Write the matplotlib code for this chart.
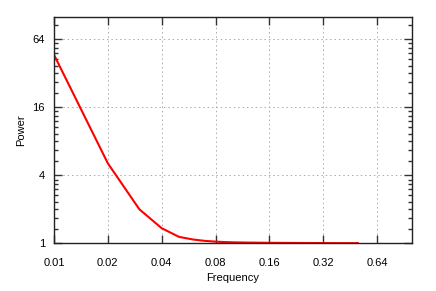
import numpy as np
from matplotlib import pyplot as plt
from matplotlib.ticker import FixedLocator, NullFormatter, NullLocator

plt.rcParams['font.family'] = ['Liberation Sans', 'DejaVu Sans']

# values
frequency = [0.01, 0.02, 0.03, 0.04, 0.05, 0.06, 0.07, 0.08, 0.09, 0.10,
             0.12, 0.14, 0.16, 0.20, 0.25, 0.30, 0.35, 0.40, 0.45, 0.50]
power = [46.5, 5.1, 2.0, 1.36, 1.14, 1.08, 1.05, 1.035, 1.025, 1.02,
         1.015, 1.012, 1.01, 1.008, 1.006, 1.005, 1.004, 1.003, 1.003, 1.003]

x_ticks = [0.01, 0.02, 0.04, 0.08, 0.16, 0.32, 0.64]
x_tick_labels = ['0.01', '0.02', '0.04', '0.08', '0.16', '0.32', '0.64']
y_ticks = [1, 4, 16, 64]
y_tick_labels = ['1', '4', '16', '64']

fig = plt.figure(figsize=(4.36, 2.91), dpi=100)
ax = fig.add_axes([54 / 436, 1 - 243.3 / 291, (411.7 - 54) / 436, (243.3 - 16.7) / 291])

ax.plot(frequency, power, color='#ff0000', linewidth=1.5)

ax.set_xscale('log', base=2)
ax.set_yscale('log', base=2)
ax.set_xlim(0.01, 1.0)
ax.set_ylim(1, 101)

ax.xaxis.set_major_locator(FixedLocator(x_ticks))
ax.set_xticklabels(x_tick_labels)
ax.xaxis.set_minor_locator(NullLocator())

ax.yaxis.set_major_locator(FixedLocator(y_ticks))
ax.set_yticklabels(y_tick_labels)
# gnuplot style minor ticks: eight evenly spaced ones between each pair of majors
minor = [b * (1 + k / 3) for b in y_ticks for k in range(1, 9)]
ax.yaxis.set_minor_locator(FixedLocator(minor))
ax.yaxis.set_minor_formatter(NullFormatter())

ax.tick_params(which='both', direction='in', top=True, right=True, labelsize=8, color='#333333')
ax.tick_params(which='major', length=5.8, width=1)
ax.tick_params(which='minor', length=2.9, width=1)
ax.tick_params(axis='x', pad=10.5)
ax.tick_params(axis='y', pad=6.5)

ax.grid(True, which='major', linestyle=(0, (1.5, 3)), color='#aaaaaa', linewidth=0.7)
for s in ax.spines.values():
    s.set_color('#222222')
    s.set_linewidth(1.0)

ax.set_xlabel('Frequency', fontsize=8, labelpad=4)
ax.set_ylabel('Power', fontsize=8, labelpad=4.5)

fig.savefig('out.png', dpi=100)
